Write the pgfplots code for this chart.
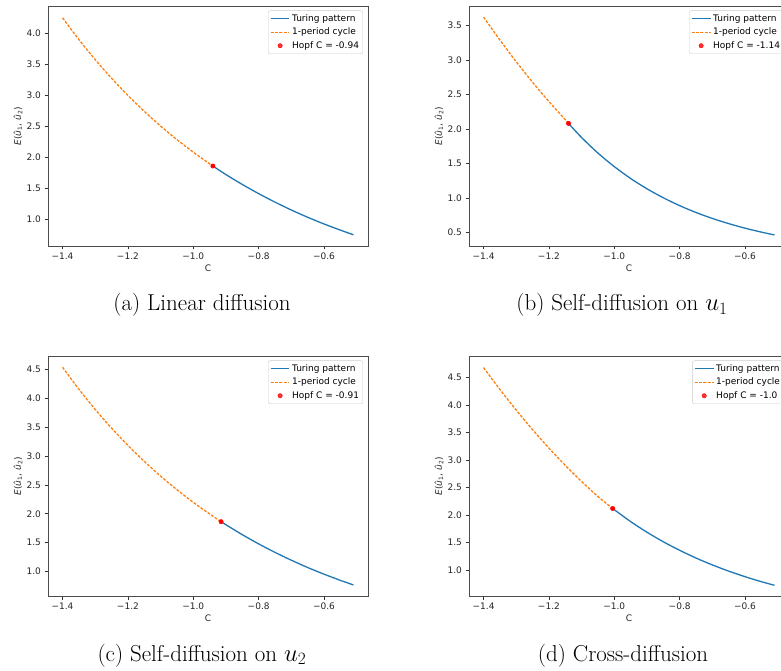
\documentclass[border=0pt]{standalone}
\usepackage{fontspec}
\usepackage{pgfplots}
\pgfplotsset{compat=1.18}
\newfontfamily\dejavu{DejaVu Sans}
\definecolor{tabblue}{HTML}{1F77B4}
\definecolor{taborange}{HTML}{FF7F0E}

\pgfplotsset{
  hopfpanel/.style={
    scale only axis, width=320pt, height=240pt,
    xmin=-1.4445, xmax=-0.4655,
    xtick={-1.4,-1.2,-1.0,-0.8,-0.6},
    xticklabels={−1.4,−1.2,−1.0,−0.8,−0.6},
    /pgf/number format/assume math mode=true,
    yticklabel={\pgfmathprintnumber[fixed,fixed zerofill,precision=1]{\tick}},
    tick align=outside, xtick pos=left, ytick pos=left,
    major tick length=3.5pt,
    tick style={black!80, line width=0.6pt},
    axis line style={black!70, line width=0.8pt},
    ticklabel style={font=\dejavu\fontsize{9}{10}\selectfont, text=black!85},
    label style={font=\dejavu\fontsize{9}{10}\selectfont, text=black!85},
    xlabel={C},
    x label style={at={(axis description cs:0.5,0)}, anchor=center, yshift=-22pt},
    ylabel={\itshape E\upshape(\itshape\^{u}\upshape\textsubscript{1}, \itshape\^{u}\upshape\textsubscript{2})},
    y label style={at={(axis description cs:0,0.5)}, anchor=center, rotate=0, yshift=30pt},
    legend cell align=left,
    legend image code/.code={\draw[mark repeat=2,mark phase=2] plot coordinates {(0cm,0cm) (0.33cm,0cm) (0.66cm,0cm)};},
    legend style={at={(axis description cs:1,1)}, anchor=north east,
      xshift=-5pt, yshift=-4.5pt, draw=black!20, fill=white, fill opacity=0.8,
      text opacity=1, rounded corners=2pt, inner sep=1.8pt, row sep=1.2pt,
      font=\dejavu\fontsize{9}{10}\selectfont},
  },
  turing/.style={tabblue, line width=1.3pt, no marks, smooth},
  cycle/.style={taborange, line width=1.3pt, no marks, smooth, dash pattern=on 2.8pt off 1.5pt},
  hopf/.style={only marks, mark=*, mark size=2.2pt, red},
}

\begin{document}
\begin{tikzpicture}
\useasboundingbox (0pt,0pt) rectangle (781pt,670pt);
\fill[white] (0pt,0pt) rectangle (781pt,670pt);
\clip (0pt,0pt) rectangle (781pt,670pt);

% (a) linear diffusion
\begin{axis}[hopfpanel, at={(48pt,424pt)}, anchor=south west,
  ymin=0.571, ymax=4.44, ytick={1.0,1.5,...,4.0}]
\addplot[turing] coordinates {(-0.94,1.860) (-0.90,1.722) (-0.85,1.563) (-0.80,1.415)
  (-0.75,1.278) (-0.70,1.151) (-0.65,1.034) (-0.60,0.926) (-0.55,0.827) (-0.51,0.752)};
\addlegendentry{Turing pattern}
\addplot[cycle] coordinates {(-1.40,4.250) (-1.35,3.899) (-1.30,3.575) (-1.25,3.275)
  (-1.20,2.998) (-1.15,2.742) (-1.10,2.505) (-1.05,2.285) (-1.00,2.083) (-0.95,1.896)
  (-0.94,1.860)};
\addlegendentry{1-period cycle}
\addplot[hopf] coordinates {(-0.94,1.860)};
\addlegendentry{Hopf C = -0.94}
\end{axis}

% (b) self-diffusion on u1
\begin{axis}[hopfpanel, at={(469pt,424pt)}, anchor=south west,
  ymin=0.306, ymax=3.78, ytick={0.5,1.0,...,3.5}]
\addplot[turing] coordinates {(-1.14,2.080) (-1.10,1.876) (-1.05,1.651) (-1.00,1.455)
  (-0.95,1.283) (-0.90,1.134) (-0.85,1.004) (-0.80,0.890) (-0.75,0.791) (-0.70,0.705)
  (-0.65,0.630) (-0.60,0.564) (-0.55,0.507) (-0.51,0.466)};
\addlegendentry{Turing pattern}
\addplot[cycle] coordinates {(-1.40,3.620) (-1.35,3.288) (-1.30,2.973) (-1.25,2.676)
  (-1.20,2.397) (-1.15,2.135) (-1.14,2.080)};
\addlegendentry{1-period cycle}
\addplot[hopf] coordinates {(-1.14,2.080)};
\addlegendentry{Hopf C = -1.14}
\end{axis}

% (c) self-diffusion on u2
\begin{axis}[hopfpanel, at={(48pt,74pt)}, anchor=south west,
  ymin=0.58, ymax=4.7245, ytick={1.0,1.5,...,4.5}]
\addplot[turing] coordinates {(-0.915,1.864) (-0.90,1.810) (-0.85,1.639) (-0.80,1.480)
  (-0.75,1.333) (-0.70,1.198) (-0.65,1.072) (-0.60,0.957) (-0.55,0.850) (-0.51,0.771)};
\addlegendentry{Turing pattern}
\addplot[cycle] coordinates {(-1.40,4.530) (-1.35,4.152) (-1.30,3.802) (-1.25,3.479)
  (-1.20,3.181) (-1.15,2.905) (-1.10,2.650) (-1.05,2.415) (-1.00,2.197) (-0.95,1.996)
  (-0.915,1.864)};
\addlegendentry{1-period cycle}
\addplot[hopf] coordinates {(-0.915,1.864)};
\addlegendentry{Hopf C = -0.91}
\end{axis}

% (d) cross-diffusion
\begin{axis}[hopfpanel, at={(469pt,74pt)}, anchor=south west,
  ymin=0.53, ymax=4.89, ytick={1.0,1.5,...,4.5}]
\addplot[turing] coordinates {(-1.005,2.120) (-0.95,1.882) (-0.90,1.689) (-0.85,1.515)
  (-0.80,1.360) (-0.75,1.220) (-0.70,1.095) (-0.65,0.982) (-0.60,0.881) (-0.55,0.790)
  (-0.51,0.725)};
\addlegendentry{Turing pattern}
\addplot[cycle] coordinates {(-1.40,4.680) (-1.35,4.283) (-1.30,3.907) (-1.25,3.552)
  (-1.20,3.217) (-1.15,2.903) (-1.10,2.610) (-1.05,2.337) (-1.005,2.120)};
\addlegendentry{1-period cycle}
\addplot[hopf] coordinates {(-1.005,2.120)};
\addlegendentry{Hopf C = -1.0}
\end{axis}

% sub-captions
\begin{scope}[every node/.style={anchor=base, inner sep=0pt, font=\fontsize{23}{27}\selectfont}]
\node at (202pt,359pt) {(a) Linear diffusion};
\node at (622pt,359pt) {(b) Self-diffusion on $u_1$};
\node at (202pt,9pt) {(c) Self-diffusion on $u_2$};
\node at (623pt,9pt) {(d) Cross-diffusion};
\end{scope}
\end{tikzpicture}
\end{document}
